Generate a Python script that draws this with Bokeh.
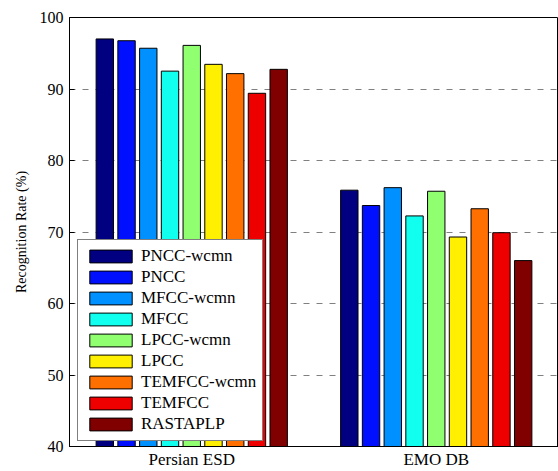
from bokeh.plotting import figure
from bokeh.models import ColumnDataSource, FixedTicker, Legend, LegendItem, Range1d
from bokeh.embed import file_html
from bokeh.resources import INLINE

# ---- data ----
datasets = ["Persian ESD", "EMO DB"]
methods = ["PNCC-wcmn", "PNCC", "MFCC-wcmn", "MFCC", "LPCC-wcmn", "LPCC",
           "TEMFCC-wcmn", "TEMFCC", "RASTAPLP"]
persian_esd = [97.0, 96.75, 95.7, 92.5, 96.1, 93.45, 92.15, 89.4, 92.75]
emo_db = [75.85, 73.7, 76.2, 72.25, 75.7, 69.3, 73.25, 69.9, 66.0]
colors = ["#000080", "#0010FF", "#0090FF", "#10FFEF", "#90FF70",
          "#FFEF00", "#FF7000", "#EF0000", "#800000"]
y_ticks = [40, 50, 60, 70, 80, 90, 100]
y_label = "Recognition Rate (%)"

FONT = "Liberation Serif"

group_pos = [i + 1 for i in range(len(datasets))]
n = len(methods)
group_width = 0.8
slot = group_width / n
bar_w = slot * 0.8

p = figure(width=558, height=471,
           x_range=Range1d(0.5, 2.5), y_range=Range1d(40, 100),
           output_backend="svg", toolbar_location=None,
           min_border_left=69, min_border_right=0, min_border_top=17, min_border_bottom=23)
p.background_fill_color = "white"
p.border_fill_color = "white"
p.outline_line_color = "black"
p.outline_line_width = 1
p.outline_line_alpha = 1

# axes
p.xaxis.ticker = FixedTicker(ticks=group_pos)
p.xaxis.major_label_overrides = {g: d for g, d in zip(group_pos, datasets)}
p.xaxis.major_label_text_font = FONT
p.xaxis.major_label_text_font_size = "17px"
p.xaxis.major_label_text_color = "black"
p.xaxis.major_label_standoff = 3
p.xaxis.major_tick_in = 0
p.xaxis.major_tick_out = 0
p.xaxis.minor_tick_line_color = None
p.xaxis.axis_line_color = "black"

p.yaxis.ticker = FixedTicker(ticks=y_ticks)
p.yaxis.major_label_text_font = FONT
p.yaxis.major_label_text_font_size = "16px"
p.yaxis.major_label_text_color = "black"
p.yaxis.major_label_standoff = 6
p.yaxis.major_tick_in = 5
p.yaxis.major_tick_out = 0
p.yaxis.minor_tick_line_color = None
p.yaxis.axis_line_color = "black"
p.yaxis.axis_label = y_label
p.yaxis.axis_label_text_font = FONT
p.yaxis.axis_label_text_font_size = "14px"
p.yaxis.axis_label_text_font_style = "normal"
p.yaxis.axis_label_text_color = "black"
p.yaxis.axis_label_standoff = 8

p.xgrid.grid_line_color = None
p.ygrid.ticker = FixedTicker(ticks=y_ticks[1:-1])
p.ygrid.grid_line_color = "#808080"
p.ygrid.grid_line_dash = "6 7"
p.ygrid.grid_line_width = 1

items = []
for i, (m, c) in enumerate(zip(methods, colors)):
    xs = [g + (i - (n - 1) / 2) * slot for g in group_pos]
    src = ColumnDataSource(dict(x=xs, top=[persian_esd[i], emo_db[i]]))
    r = p.vbar(x="x", top="top", bottom=40, width=bar_w, source=src,
               fill_color=c, line_color="black", line_width=1)
    items.append(LegendItem(label=m, renderers=[r]))

legend = Legend(items=items, location=(8, 5))
legend.label_text_font = FONT
legend.label_text_font_size = "17px"
legend.label_text_color = "black"
legend.glyph_width = 53
legend.glyph_height = 16
legend.label_height = 16
legend.spacing = 1
legend.padding = 6
legend.margin = 0
legend.label_standoff = 4
legend.border_line_color = "black"
legend.border_line_width = 1
legend.background_fill_color = "white"
legend.background_fill_alpha = 1
p.add_layout(legend)

open("out.html", "w").write(file_html(p, INLINE))
